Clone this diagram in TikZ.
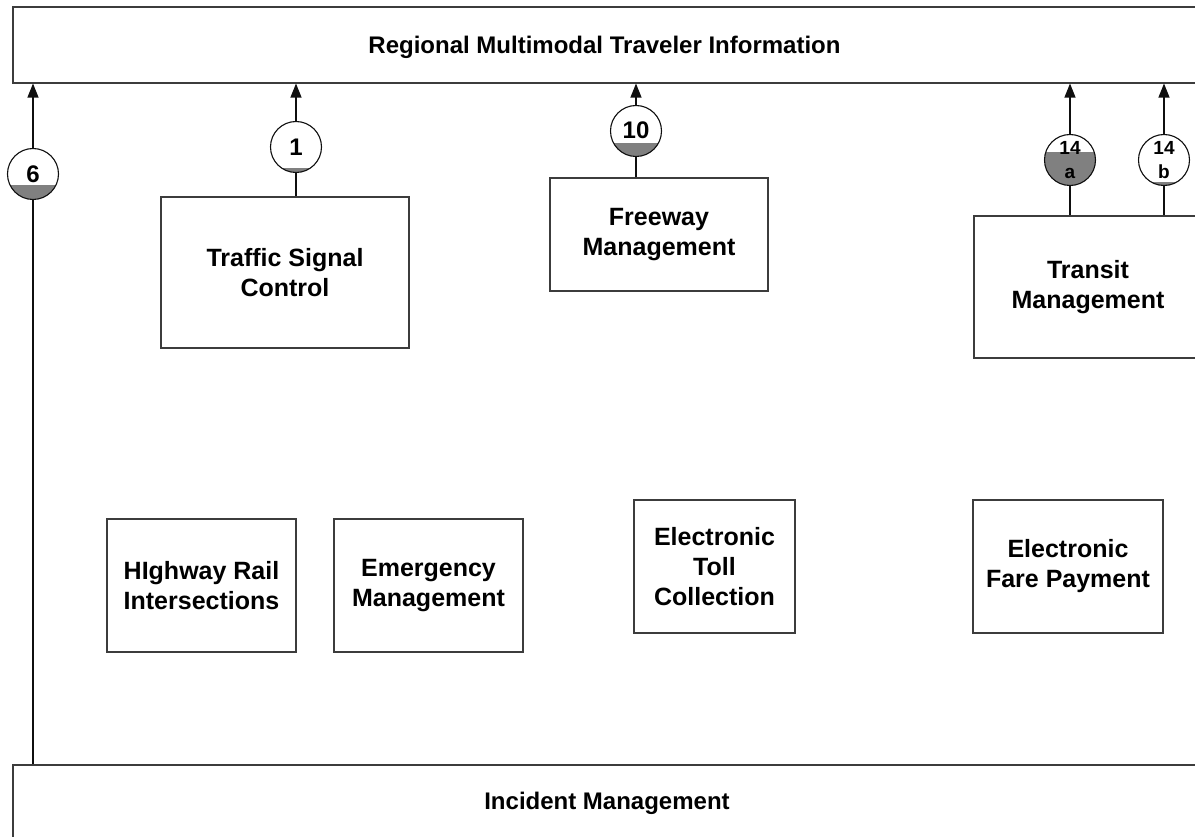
\documentclass[tikz,border=0pt]{standalone}
\usepackage{fontspec}
\setmainfont{Liberation Sans}
\usetikzlibrary{arrows.meta, positioning, calc}
\definecolor{cline}{RGB}{15, 15, 15}
\definecolor{cedge}{RGB}{60, 60, 60}
\definecolor{cdone}{RGB}{128, 128, 128}
\tikzset{
  box/.style={draw=cedge, line width=1.1pt, align=center, inner sep=0pt,
              font=\bfseries\fontsize{25}{30}\selectfont},
  band/.style={box, font=\bfseries\fontsize{24}{28}\selectfont},
  arr/.style={-{Triangle[length=14pt, width=11pt]}, line width=1.1pt, draw=cline},
  lnk/.style={line width=1.1pt, draw=cline},
  ball/.style={circle, draw=cline, line width=1.1pt, fill=white, minimum size=51pt,
               inner sep=0pt, align=center, font=\bfseries\fontsize{24}{24}\selectfont,
               path picture={\fill[cdone] (path picture bounding box.south west)
                 rectangle ($(path picture bounding box.south east)+(0,#1)$);}},
  ball/.default=0pt,
  ballab/.style={font=\bfseries\fontsize{19}{24}\selectfont},
}

\begin{document}
\begin{tikzpicture}[x=1pt, y=-1pt]
\useasboundingbox (0,0) rectangle (1195,837);

% ---------- 上下两条横带 ----------
\node[band, minimum width=1183pt, minimum height=76pt, text height=22pt, text depth=5pt]
  (rmti) at (604.5,45) {Regional Multimodal Traveler Information};
\node[band, minimum width=1188pt, minimum height=90pt, text height=20pt, text depth=22pt]
  (incident) at (607,810) {Incident Management};

% ---------- 上排系统 ----------
\node[box, minimum width=248pt, minimum height=151pt] (signal) at (285,272.5)
  {Traffic Signal\\ Control};
\node[box, minimum width=218pt, minimum height=113pt] (freeway) at (659,234.5)
  {Freeway\\ Management};
\node[box, minimum width=228pt, minimum height=142pt] (transit) at (1088,287)
  {Transit\\ Management};

% ---------- 下排系统 ----------
\node[box, minimum width=189pt, minimum height=133pt] (rail) at (201.5,585.5)
  {HIghway Rail\\ Intersections};
\node[box, minimum width=189pt, minimum height=133pt] (emerg) at (428.5,585.5)
  {Emergency\\ Management};
\node[box, minimum width=161pt, minimum height=133pt] (toll) at (714.5,566.5)
  {Electronic\\ Toll\\ Collection};
\node[box, minimum width=190pt, minimum height=133pt] (fare) at (1068,566.5)
  {Electronic\\ Fare Payment};

% ---------- 进度圆 ----------
\node[ball=14pt] (b6) at (33,174) {\raisebox{-5pt}{6}};
\node[ball=4pt] (b1) at (296,147) {1};
\node[ball=13pt] (b10) at (636,131) {\raisebox{2pt}{10}};
\node[ball=33pt, ballab] (b14a) at (1070,160) {14\\ a};
\node[ball=3pt, ballab] (b14b) at (1164,160) {14\\ b};

% ---------- 连线 ----------
\draw[lnk] (incident.north -| b6) -- (b6);
\draw[arr] (b6) -- (b6 |- rmti.south);
\draw[lnk] (signal.north -| b1) -- (b1);
\draw[arr] (b1) -- (b1 |- rmti.south);
\draw[lnk] (freeway.north -| b10) -- (b10);
\draw[arr] (b10) -- (b10 |- rmti.south);
\draw[lnk] (transit.north -| b14a) -- (b14a);
\draw[arr] (b14a) -- (b14a |- rmti.south);
\draw[lnk] (transit.north -| b14b) -- (b14b);
\draw[arr] (b14b) -- (b14b |- rmti.south);

\end{tikzpicture}
\end{document}
